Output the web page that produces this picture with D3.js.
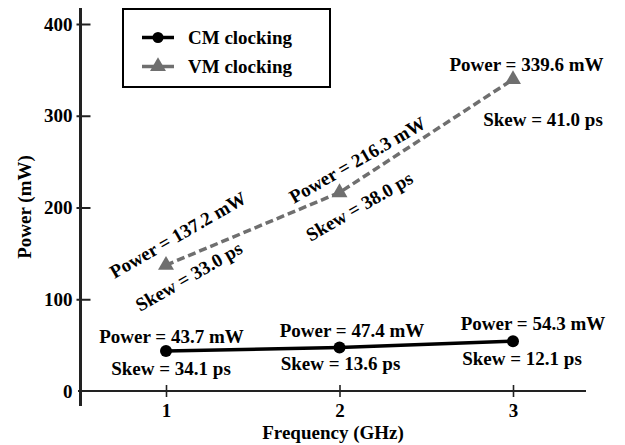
<!DOCTYPE html>
<html>
<head>
<meta charset="utf-8">
<script src="https://cdn.jsdelivr.net/npm/d3@7"></script>
<style>
  html, body { margin: 0; padding: 0; background: #fff; }
  svg { display: block; }
  text { font-family: "Liberation Serif", "Times New Roman", serif; font-weight: bold; fill: #000; }
</style>
</head>
<body>
<svg id="chart" width="625" height="445"></svg>
<script>
// ---- data ----
const frequencies = [1, 2, 3];
const cmPower = [43.7, 47.4, 54.3];
const cmSkew = [34.1, 13.6, 12.1];
const vmPower = [137.2, 216.3, 339.6];
const vmSkew = [33.0, 38.0, 41.0];
const yTickValues = [0, 100, 200, 300, 400];
const xTickValues = [1, 2, 3];
const seriesNames = ["CM clocking", "VM clocking"];

// ---- layout ----
const svg = d3.select("#chart");
const FS = 19;
const FONT = '"Liberation Serif", "Times New Roman", serif';
const x = d3.scaleLinear().domain([1, 3]).range([166, 513]);
const y = d3.scaleLinear().domain([0, 400]).range([391, 24]);
const grey = "#6f6f6f";

// axes lines
svg.append("line").attr("x1", 80.5).attr("x2", 80.5).attr("y1", 8).attr("y2", 406)
  .attr("stroke", "#222").attr("stroke-width", 3);
svg.append("line").attr("x1", 78).attr("x2", 586).attr("y1", y(0)).attr("y2", y(0))
  .attr("stroke", "#222").attr("stroke-width", 2.2);

// y ticks
const yAxis = d3.axisLeft(y).tickValues(yTickValues).tickSize(0).tickPadding(8);
const gy = svg.append("g").attr("transform", "translate(80.5,0)").call(yAxis)
  .attr("font-family", FONT);
gy.select(".domain").remove();
gy.selectAll("text").attr("font-size", FS).attr("font-weight", "bold").attr("fill", "#000");
gy.selectAll(".tick").filter(d => d !== 0).append("line")
  .attr("x1", -4).attr("x2", 10).attr("stroke", "#222").attr("stroke-width", 2);

// x ticks
const xAxis = d3.axisBottom(x).tickValues(xTickValues).tickSize(0).tickPadding(13).tickFormat(d3.format("d"));
const gx = svg.append("g").attr("transform", `translate(0,${y(0)})`).call(xAxis)
  .attr("font-family", FONT);
gx.select(".domain").remove();
gx.selectAll("text").attr("font-size", FS).attr("font-weight", "bold").attr("fill", "#000");
gx.selectAll(".tick").append("line").attr("y1", -6).attr("y2", 6).attr("stroke", "#222").attr("stroke-width", 1.6);

// axis titles
svg.append("text").attr("x", 333).attr("y", 439).attr("text-anchor", "middle").attr("font-size", FS).text("Frequency (GHz)");
svg.append("text").attr("transform", "translate(31,207) rotate(-90)").attr("text-anchor", "middle").attr("font-size", FS).text("Power (mW)");

// lines
const line = d3.line().x(d => x(d[0])).y(d => y(d[1]));
const vmData = frequencies.map((f, i) => [f, vmPower[i]]);
const cmData = frequencies.map((f, i) => [f, cmPower[i]]);

svg.append("path").datum(vmData).attr("d", line).attr("fill", "none")
  .attr("stroke", grey).attr("stroke-width", 3.5).attr("stroke-dasharray", "8,4");
const tri = d3.symbol().type(d3.symbolTriangle).size(110);
svg.selectAll(".vmpt").data(vmData).join("path").attr("class", "vmpt")
  .attr("d", tri).attr("transform", d => `translate(${x(d[0])},${y(d[1])})`).attr("fill", grey);

svg.append("path").datum(cmData).attr("d", line).attr("fill", "none")
  .attr("stroke", "#000").attr("stroke-width", 3.5);
svg.selectAll(".cmpt").data(cmData).join("circle").attr("class", "cmpt")
  .attr("cx", d => x(d[0])).attr("cy", d => y(d[1])).attr("r", 6).attr("fill", "#000");

// annotations
const pLabel = v => `Power = ${v.toFixed(1)} mW`;
const sLabel = v => `Skew = ${v.toFixed(1)} ps`;

// CM labels (horizontal), offsets in px from point: [dxP, dyP, dxS, dyS]
const cmOff = [[5.5, -8, 5, 24], [12.5, -11, 1, 22.5], [20, -11, 9, 24]];
cmData.forEach((d, i) => {
  const px = x(d[0]), py = y(d[1]);
  const o = cmOff[i];
  svg.append("text").attr("x", px + o[0]).attr("y", py + o[1]).attr("text-anchor", "middle").attr("font-size", FS).text(pLabel(cmPower[i]));
  svg.append("text").attr("x", px + o[2]).attr("y", py + o[3]).attr("text-anchor", "middle").attr("font-size", FS).text(sLabel(cmSkew[i]));
});

// VM labels: [dxP, dyP, dxS, dyS, angle]  (centres)
const vmOff = [[12, -30, 23, 11.5, -30], [18, -32.5, 20, 14, -30], [13.5, -15, 30, 40, 0]];
vmData.forEach((d, i) => {
  const px = x(d[0]), py = y(d[1]);
  const o = vmOff[i];
  svg.append("text").attr("transform", `translate(${px + o[0]},${py + o[1]}) rotate(${o[4]})`)
    .attr("dy", "0.33em").attr("text-anchor", "middle").attr("font-size", FS).text(pLabel(vmPower[i]));
  svg.append("text").attr("transform", `translate(${px + o[2]},${py + o[3]}) rotate(${o[4]})`)
    .attr("dy", "0.33em").attr("text-anchor", "middle").attr("font-size", FS).text(sLabel(vmSkew[i]));
});

// legend
const lg = svg.append("g");
lg.append("rect").attr("x", 123).attr("y", 9).attr("width", 207).attr("height", 78)
  .attr("fill", "#fff").attr("stroke", "#000").attr("stroke-width", 2);
const legendRows = [
  { name: seriesNames[0], color: "#000", cy: 37.5, marker: "circle" },
  { name: seriesNames[1], color: grey, cy: 66.5, marker: "tri" }
];
legendRows.forEach(r => {
  lg.append("line").attr("x1", 142).attr("x2", 174).attr("y1", r.cy).attr("y2", r.cy)
    .attr("stroke", r.color).attr("stroke-width", 3.5);
  if (r.marker === "circle") {
    lg.append("circle").attr("cx", 158).attr("cy", r.cy).attr("r", 5.5).attr("fill", r.color);
  } else {
    lg.append("path").attr("d", tri).attr("transform", `translate(158,${r.cy})`).attr("fill", r.color);
  }
  lg.append("text").attr("x", 188).attr("y", r.cy).attr("dy", "0.33em").attr("font-size", FS).text(r.name);
});
</script>
</body>
</html>
